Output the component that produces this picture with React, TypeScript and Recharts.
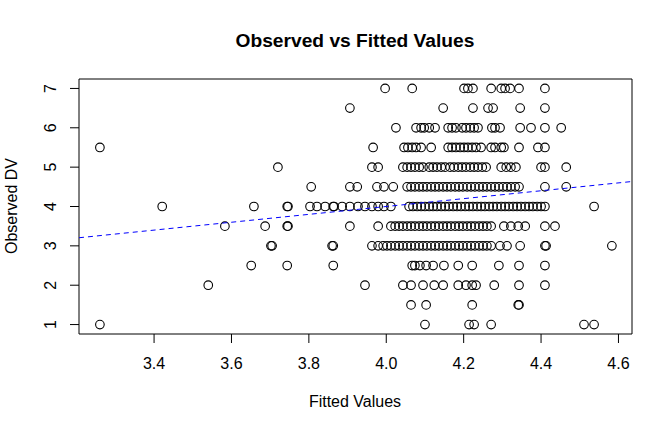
import React from 'react';
import { ScatterChart, Scatter, XAxis, YAxis, ReferenceArea } from 'recharts';

const obs7 = [3.997, 4.067, 4.201, 4.211, 4.224, 4.271, 4.297, 4.307, 4.32, 4.343, 4.41];
const obs6_5 = [3.906, 4.147, 4.224, 4.263, 4.276, 4.346, 4.41];
const obs6 = [4.025, 4.077, 4.09, 4.098, 4.111, 4.126, 4.16, 4.17, 4.18, 4.196, 4.206, 4.217, 4.227, 4.237, 4.273, 4.281, 4.294, 4.346, 4.374, 4.41, 4.452];
const obs5_5 = [3.26, 3.966, 4.046, 4.056, 4.067, 4.077, 4.09, 4.116, 4.16, 4.17, 4.18, 4.191, 4.201, 4.211, 4.222, 4.232, 4.245, 4.271, 4.281, 4.297, 4.304, 4.343, 4.392, 4.41];
const obs5 = [3.72, 3.963, 3.979, 4.043, 4.054, 4.064, 4.074, 4.085, 4.095, 4.111, 4.121, 4.131, 4.142, 4.152, 4.165, 4.175, 4.186, 4.196, 4.206, 4.217, 4.227, 4.237, 4.248, 4.258, 4.297, 4.31, 4.322, 4.335, 4.4, 4.41, 4.465];
const obs4_5 = [3.806, 3.906, 3.925, 3.976, 3.994, 4.018, 4.054, 4.064, 4.074, 4.085, 4.095, 4.105, 4.116, 4.126, 4.136, 4.147, 4.157, 4.167, 4.178, 4.188, 4.198, 4.209, 4.219, 4.229, 4.24, 4.25, 4.26, 4.271, 4.281, 4.291, 4.302, 4.312, 4.322, 4.333, 4.343, 4.41, 4.465];
const obs4 = [3.421, 3.658, 3.744, 3.746, 3.803, 3.821, 3.842, 3.863, 3.865, 3.886, 3.906, 3.927, 3.945, 3.963, 3.979, 3.994, 4.012, 4.059, 4.069, 4.08, 4.09, 4.1, 4.111, 4.121, 4.131, 4.142, 4.152, 4.162, 4.173, 4.183, 4.193, 4.204, 4.214, 4.224, 4.235, 4.245, 4.255, 4.266, 4.276, 4.286, 4.297, 4.307, 4.317, 4.328, 4.338, 4.348, 4.359, 4.369, 4.379, 4.39, 4.4, 4.41, 4.537];
const obs3_5 = [3.583, 3.687, 3.744, 3.746, 3.906, 3.979, 4.012, 4.023, 4.033, 4.043, 4.054, 4.064, 4.074, 4.085, 4.095, 4.105, 4.116, 4.126, 4.136, 4.147, 4.157, 4.167, 4.178, 4.188, 4.198, 4.209, 4.219, 4.229, 4.24, 4.25, 4.26, 4.271, 4.304, 4.322, 4.341, 4.359, 4.41, 4.436];
const obs3 = [3.702, 3.705, 3.86, 3.863, 3.963, 3.979, 3.992, 4.002, 4.012, 4.023, 4.033, 4.043, 4.054, 4.064, 4.074, 4.085, 4.095, 4.105, 4.116, 4.126, 4.136, 4.147, 4.157, 4.167, 4.178, 4.188, 4.198, 4.209, 4.219, 4.229, 4.24, 4.25, 4.26, 4.271, 4.294, 4.312, 4.346, 4.41, 4.413, 4.583];
const obs2_5 = [3.651, 3.744, 3.863, 4.067, 4.074, 4.087, 4.103, 4.121, 4.149, 4.186, 4.222, 4.291, 4.343, 4.41];
const obs2 = [3.54, 3.945, 4.043, 4.064, 4.095, 4.124, 4.147, 4.186, 4.206, 4.222, 4.232, 4.279, 4.343, 4.41];
const obs1_5 = [4.064, 4.103, 4.222, 4.341, 4.343];
const obs1 = [3.26, 4.1, 4.214, 4.227, 4.271, 4.511, 4.537];

const observedLevels: [number, number[]][] = [
  [7, obs7], [6.5, obs6_5], [6, obs6], [5.5, obs5_5], [5, obs5], [4.5, obs4_5], [4, obs4],
  [3.5, obs3_5], [3, obs3], [2.5, obs2_5], [2, obs2], [1.5, obs1_5], [1, obs1],
];

// abline of the lm fit, end points at the plot edges
const fitLineX = [3.206, 4.635];
const fitLineY = [3.206, 4.635];

const xTicks = [3.4, 3.6, 3.8, 4.0, 4.2, 4.4, 4.6];
const yTicks = [1, 2, 3, 4, 5, 6, 7];
const xDomain: [number, number] = [3.206, 4.635];
const yDomain: [number, number] = [0.76, 7.24];

const points = observedLevels.flatMap(([y, xs]) => xs.map((x) => ({ x, y })));
const fitLine = fitLineX.map((x, i) => ({ x, y: fitLineY[i] }));

const FONT = '"Liberation Sans", Arial, Helvetica, sans-serif';

const OpenCircle = (props: any) => (
  <circle cx={props.cx} cy={props.cy} r={4.3} fill="none" stroke="#000" strokeWidth={1.1} />
);

const XTick = ({ x, y, payload }: any) => (
  <text x={x} y={y} dy="0.71em" textAnchor="middle" fontSize={16} fill="#000">
    {Number(payload.value).toFixed(1)}
  </text>
);

const YTick = ({ x, y, payload }: any) => (
  <text x={x} y={y} transform={`rotate(-90 ${x} ${y})`} textAnchor="middle" fontSize={16} fill="#000">
    {payload.value}
  </text>
);

export default function App() {
  return (
    <div style={{ position: 'absolute', left: 0, top: 0, fontFamily: FONT, background: '#fff' }}>
      <ScatterChart width={672} height={432} margin={{ top: 79, right: 40, left: 0, bottom: 0 }}>
        <XAxis
          dataKey="x"
          type="number"
          domain={xDomain}
          ticks={xTicks}
          interval={0}
          allowDataOverflow
          axisLine={false}
          tickLine={{ stroke: '#000' }}
          tickSize={9}
          tickMargin={15}
          tick={<XTick />}
          height={98}
        />
        <YAxis
          dataKey="y"
          type="number"
          domain={yDomain}
          ticks={yTicks}
          interval={0}
          allowDataOverflow
          axisLine={false}
          tickLine={{ stroke: '#000' }}
          tickSize={9}
          tickMargin={14}
          tick={<YTick />}
          width={79}
        />
        <ReferenceArea
          x1={xDomain[0]}
          x2={xDomain[1]}
          y1={yDomain[0]}
          y2={yDomain[1]}
          fill="none"
          fillOpacity={0}
          stroke="#000"
          strokeWidth={1}
          ifOverflow="visible"
        />
        <Scatter data={points} shape={OpenCircle} isAnimationActive={false} />
        <Scatter
          data={fitLine}
          line={{ stroke: '#0000ff', strokeWidth: 1, strokeDasharray: '5 4' }}
          shape={() => <g />}
          isAnimationActive={false}
        />
        <text x={355} y={47} textAnchor="middle" fontSize={19.2} fontWeight="bold" fill="#000">
          Observed vs Fitted Values
        </text>
        <text x={355} y={407} textAnchor="middle" fontSize={16} fill="#000">
          Fitted Values
        </text>
        <text x={17.3} y={206} transform="rotate(-90 17.3 206)" textAnchor="middle" fontSize={16} fill="#000">
          Observed DV
        </text>
      </ScatterChart>
    </div>
  );
}
